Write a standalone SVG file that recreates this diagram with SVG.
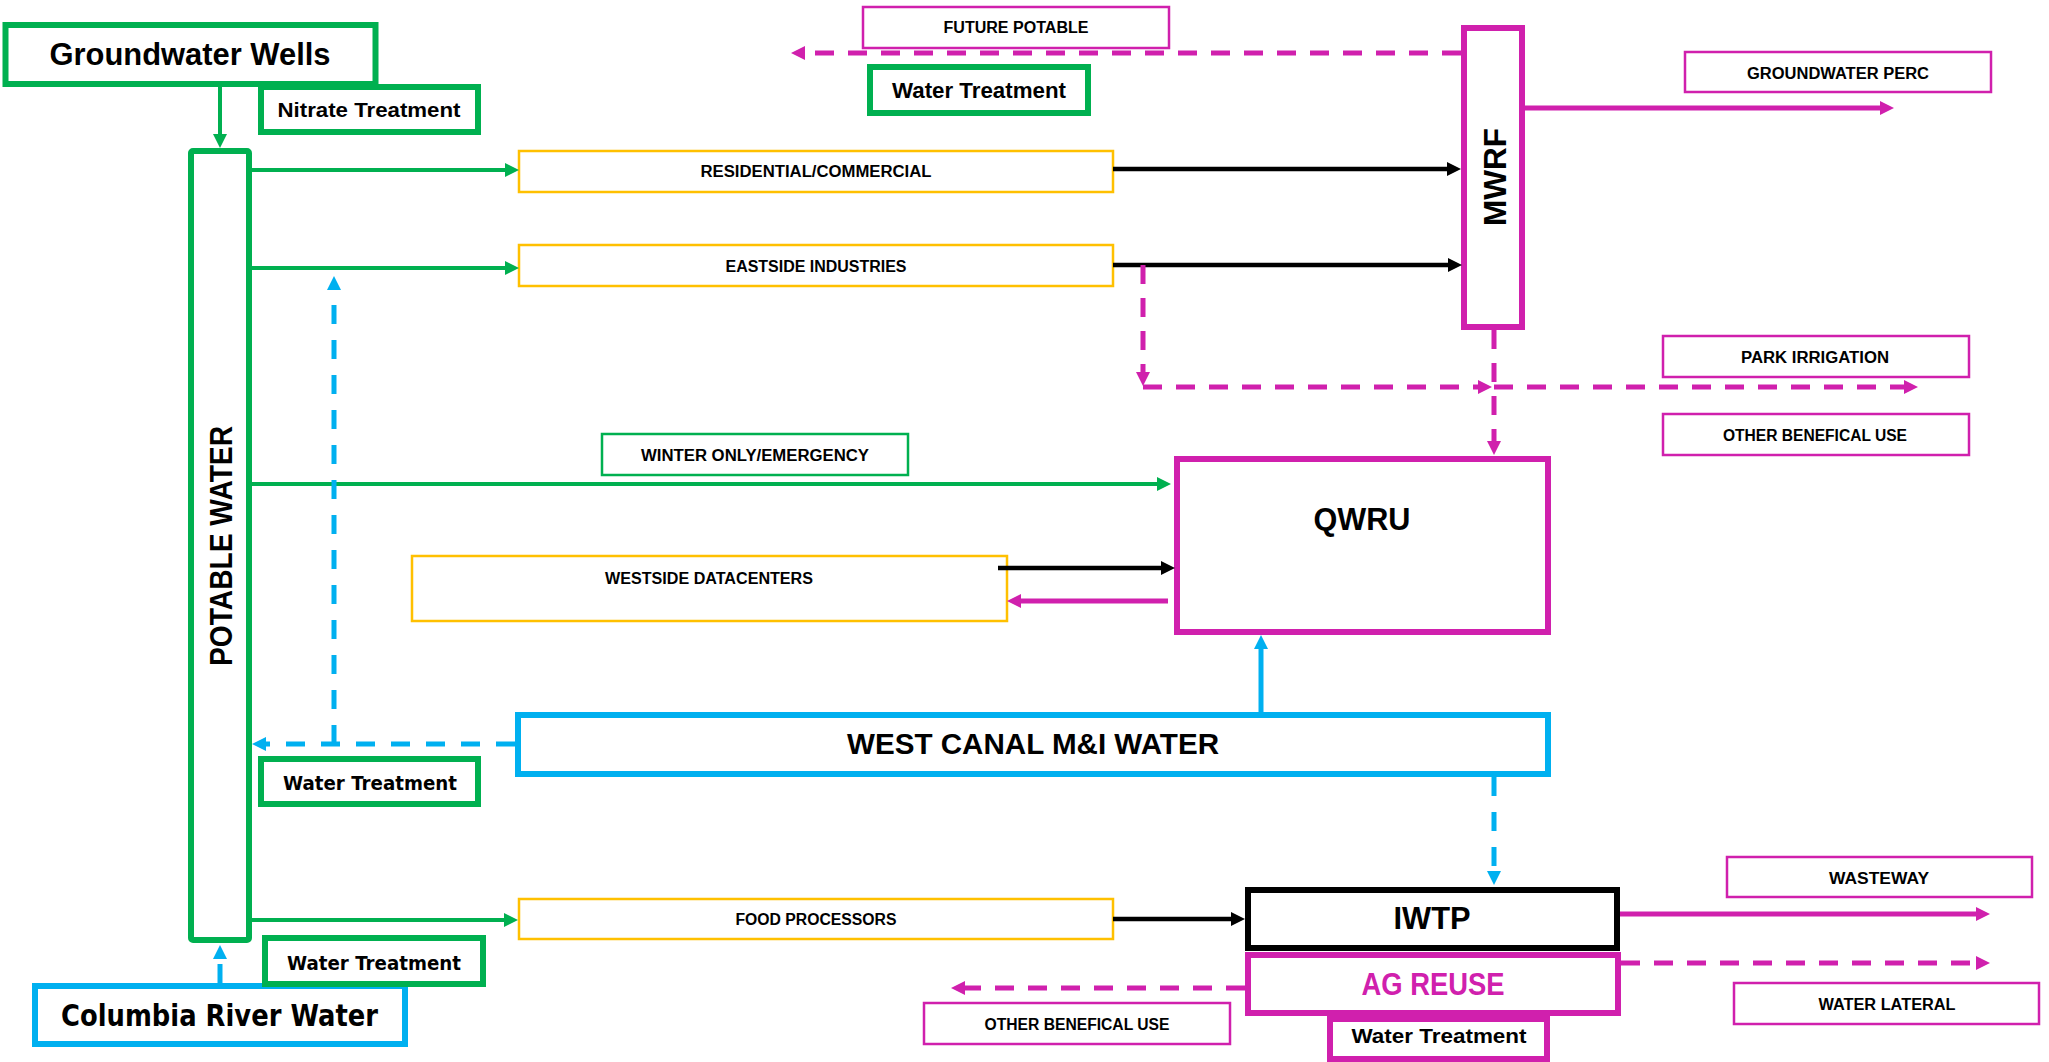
<svg xmlns="http://www.w3.org/2000/svg" width="2049" height="1062" viewBox="0 0 2049 1062">
<style>
.bg{fill:#fff}
.n{fill:#fff}
.g6{stroke:#00B050;stroke-width:6}
.m6{stroke:#D020AD;stroke-width:6}
.b6{stroke:#00B0F0;stroke-width:6}
.k6{stroke:#000;stroke-width:6}
.y2{stroke:#FFC000;stroke-width:2.5}
.g2{stroke:#00B050;stroke-width:2.5}
.m2{stroke:#D020AD;stroke-width:2.5}
.t{font-family:"Liberation Sans",Arial,sans-serif;font-weight:bold;fill:#000;text-anchor:middle}
.v{font-family:"DejaVu Sans",Verdana,sans-serif;font-weight:bold;fill:#000;text-anchor:middle}
.s{font-size:16px}
.lg{stroke:#00B050;stroke-width:4;fill:none;marker-end:url(#ag)}
.lk{stroke:#000;stroke-width:4.5;fill:none;marker-end:url(#ak)}
.lm{stroke:#D020AD;stroke-width:5;fill:none;marker-end:url(#am)}
.dm{stroke:#D020AD;stroke-width:5;fill:none;stroke-dasharray:19 14;marker-end:url(#am)}
.db{stroke:#00B0F0;stroke-width:5;fill:none;stroke-dasharray:19 16;marker-end:url(#ab)}
.lb{stroke:#00B0F0;stroke-width:5;fill:none;marker-end:url(#ab)}
</style>
<defs>
<marker id="ag" markerUnits="userSpaceOnUse" markerWidth="14" markerHeight="14" refX="4" refY="7" orient="auto"><path d="M0,0 L14,7 L0,14 z" fill="#00B050"/></marker>
<marker id="ak" markerUnits="userSpaceOnUse" markerWidth="14" markerHeight="14" refX="4" refY="7" orient="auto"><path d="M0,0 L14,7 L0,14 z" fill="#000"/></marker>
<marker id="am" markerUnits="userSpaceOnUse" markerWidth="14" markerHeight="14" refX="4" refY="7" orient="auto"><path d="M0,0 L14,7 L0,14 z" fill="#D020AD"/></marker>
<marker id="ab" markerUnits="userSpaceOnUse" markerWidth="14" markerHeight="14" refX="4" refY="7" orient="auto"><path d="M0,0 L14,7 L0,14 z" fill="#00B0F0"/></marker>
</defs>
<rect class="bg" x="0" y="0" width="2049" height="1062"/>

<g id="groundwater-wells">
<rect class="n g6" x="5.5" y="25" width="370" height="59"/>
<text class="t" x="190" y="65" font-size="31" textLength="281" lengthAdjust="spacingAndGlyphs">Groundwater Wells</text>
</g>
<g id="nitrate-treatment">
<rect class="n g6" x="261" y="87" width="217" height="45"/>
<text class="t" x="369" y="117" font-size="21" textLength="183" lengthAdjust="spacingAndGlyphs">Nitrate Treatment</text>
</g>
<g id="potable-water">
<rect class="n g6" x="191" y="151" width="58" height="789" rx="2"/>
<text class="t" transform="translate(232,546) rotate(-90)" font-size="31" textLength="240" lengthAdjust="spacingAndGlyphs">POTABLE WATER</text>
</g>
<g id="future-potable">
<rect class="n m2" x="863" y="7" width="306" height="41"/>
<text class="t s" x="1016" y="33" textLength="145" lengthAdjust="spacingAndGlyphs">FUTURE POTABLE</text>
</g>
<g id="water-treatment-top">
<rect class="n g6" x="870" y="67" width="218" height="46"/>
<text class="t" x="979" y="98" font-size="22" textLength="174" lengthAdjust="spacingAndGlyphs">Water Treatment</text>
</g>
<g id="residential">
<rect class="n y2" x="519" y="151" width="594" height="41"/>
<text class="t s" x="816" y="177" textLength="231" lengthAdjust="spacingAndGlyphs">RESIDENTIAL/COMMERCIAL</text>
</g>
<g id="eastside">
<rect class="n y2" x="519" y="245" width="594" height="41"/>
<text class="t s" x="816" y="272" textLength="181" lengthAdjust="spacingAndGlyphs">EASTSIDE INDUSTRIES</text>
</g>
<g id="mwrf">
<rect class="n m6" x="1464" y="28" width="58" height="299"/>
<text class="t" transform="translate(1506,177) rotate(-90)" font-size="32" textLength="98" lengthAdjust="spacingAndGlyphs">MWRF</text>
</g>
<g id="groundwater-perc">
<rect class="n m2" x="1685" y="52" width="306" height="40"/>
<text class="t s" x="1838" y="79" textLength="182" lengthAdjust="spacingAndGlyphs">GROUNDWATER PERC</text>
</g>
<g id="park-irrigation">
<rect class="n m2" x="1663" y="336" width="306" height="41"/>
<text class="t s" x="1815" y="363" textLength="148" lengthAdjust="spacingAndGlyphs">PARK IRRIGATION</text>
</g>
<g id="other-beneficial-use-top">
<rect class="n m2" x="1663" y="414" width="306" height="41"/>
<text class="t s" x="1815" y="441" textLength="184" lengthAdjust="spacingAndGlyphs">OTHER BENEFICAL USE</text>
</g>
<g id="winter-only">
<rect class="n g2" x="602" y="434" width="306" height="41"/>
<text class="t s" x="755" y="461" textLength="228" lengthAdjust="spacingAndGlyphs">WINTER ONLY/EMERGENCY</text>
</g>
<g id="qwru">
<rect class="n m6" x="1177" y="459" width="371" height="173"/>
<text class="t" x="1362" y="530" font-size="31" textLength="97" lengthAdjust="spacingAndGlyphs">QWRU</text>
</g>
<g id="westside">
<rect class="n y2" x="412" y="556" width="595" height="65"/>
<text class="t s" x="709" y="584" textLength="208" lengthAdjust="spacingAndGlyphs">WESTSIDE DATACENTERS</text>
</g>
<g id="west-canal">
<rect class="n b6" x="518" y="715" width="1030" height="59"/>
<text class="t" x="1033" y="754" font-size="29" textLength="372" lengthAdjust="spacingAndGlyphs">WEST CANAL M&amp;I WATER</text>
</g>
<g id="water-treatment-left">
<rect class="n g6" x="261" y="759" width="217" height="45"/>
<text class="v" x="370" y="790" font-size="20" textLength="174" lengthAdjust="spacingAndGlyphs">Water Treatment</text>
</g>
<g id="food-processors">
<rect class="n y2" x="519" y="899" width="594" height="40"/>
<text class="t s" x="816" y="925" textLength="161" lengthAdjust="spacingAndGlyphs">FOOD PROCESSORS</text>
</g>
<g id="columbia-river">
<rect class="n b6" x="35" y="986" width="370" height="58"/>
<text class="v" x="219.5" y="1026" font-size="30" textLength="317" lengthAdjust="spacingAndGlyphs">Columbia River Water</text>
</g>
<g id="water-treatment-columbia">
<rect class="n g6" x="265" y="938" width="218" height="46"/>
<text class="v" x="374" y="970" font-size="20" textLength="174" lengthAdjust="spacingAndGlyphs">Water Treatment</text>
</g>
<g id="water-treatment-bottom">
<rect class="n m6" x="1330" y="1019" width="217" height="40"/>
<text class="t" x="1439" y="1043" font-size="21" textLength="175" lengthAdjust="spacingAndGlyphs">Water Treatment</text>
</g>
<g id="iwtp">
<rect class="n k6" x="1248" y="890" width="369" height="58"/>
<text class="t" x="1432" y="929" font-size="31" textLength="77" lengthAdjust="spacingAndGlyphs">IWTP</text>
</g>
<g id="ag-reuse">
<rect class="n m6" x="1248" y="955" width="370" height="58"/>
<text class="t" x="1433" y="995" font-size="31" textLength="143" lengthAdjust="spacingAndGlyphs" style="fill:#D020AD">AG REUSE</text>
</g>
<g id="other-beneficial-use-bottom">
<rect class="n m2" x="924" y="1003" width="306" height="41"/>
<text class="t s" x="1077" y="1030" textLength="185" lengthAdjust="spacingAndGlyphs">OTHER BENEFICAL USE</text>
</g>
<g id="wasteway">
<rect class="n m2" x="1727" y="857" width="305" height="40"/>
<text class="t s" x="1879" y="884" textLength="100" lengthAdjust="spacingAndGlyphs">WASTEWAY</text>
</g>
<g id="water-lateral">
<rect class="n m2" x="1734" y="983" width="305" height="41"/>
<text class="t s" x="1887" y="1010" textLength="137" lengthAdjust="spacingAndGlyphs">WATER LATERAL</text>
</g>

<g id="connectors">
<line class="lg" x1="220" y1="87" x2="220" y2="138"/>
<line class="lg" x1="252" y1="170" x2="509" y2="170"/>
<line class="lg" x1="252" y1="268" x2="509" y2="268"/>
<line class="lg" x1="252" y1="484" x2="1161" y2="484"/>
<line class="lg" x1="252" y1="920" x2="508" y2="920"/>
<line class="lk" x1="1113" y1="169" x2="1451" y2="169"/>
<line class="lk" x1="1113" y1="265" x2="1452" y2="265"/>
<line class="lk" x1="998" y1="568" x2="1165" y2="568"/>
<line class="lk" x1="1113" y1="919" x2="1235" y2="919"/>
<line class="lm" x1="1525" y1="108" x2="1884" y2="108"/>
<line class="lm" x1="1620" y1="914" x2="1980" y2="914"/>
<line class="lm" x1="1168" y1="601" x2="1017" y2="601"/>
<line class="dm" x1="1461" y1="53" x2="801" y2="53"/>
<line class="dm" x1="1143" y1="265" x2="1143" y2="376"/>
<line class="dm" x1="1143" y1="387" x2="1482" y2="387"/>
<line class="dm" x1="1494" y1="387" x2="1908" y2="387"/>
<line class="dm" x1="1494" y1="330" x2="1494" y2="445"/>
<line class="dm" x1="1621" y1="963" x2="1980" y2="963"/>
<line class="dm" x1="1245" y1="988" x2="961" y2="988"/>
<line class="db" x1="515" y1="744" x2="262" y2="744"/>
<line class="db" x1="334" y1="744" x2="334" y2="286"/>
<line class="db" x1="1494" y1="777" x2="1494" y2="875"/>
<line class="db" x1="220" y1="983" x2="220" y2="955"/>
<line class="lb" x1="1261" y1="712" x2="1261" y2="645"/>
</g>
</svg>
